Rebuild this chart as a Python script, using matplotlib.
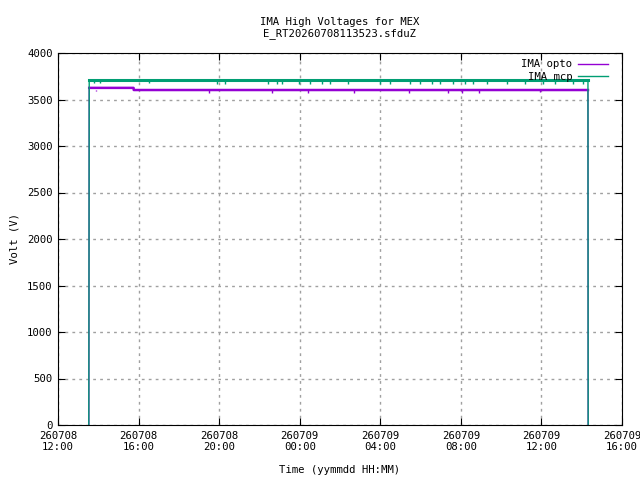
from datetime import datetime, timedelta

import matplotlib
matplotlib.use("Agg")
import matplotlib.dates as mdates
from matplotlib import pyplot as plt

# hours counted from 260708 00:00
opto_hours = [13.53, 13.55, 15.75, 15.76, 38.31, 38.32]
opto_volts = [0, 3625, 3625, 3602, 3602, 0]
opto_dip_hours = [13.9, 14.6, 15.2, 19.50, 22.62, 24.41, 26.69, 29.43, 31.36, 32.06, 32.90, 35.93]
opto_dip_volts = [3595, 3598, 3600, 3570, 3572, 3574, 3570, 3574, 3572, 3574, 3572, 3576]

mcp_hours = [13.53, 13.55, 38.31, 38.32]
mcp_volts = [0, 3705, 3705, 0]
mcp_dip_hours = [13.8, 14.1, 16.5, 19.88, 20.29, 22.43, 22.87, 23.12, 23.96, 24.51,
                 25.11, 25.50, 26.40, 27.99, 28.48, 29.48, 29.97, 30.57, 30.96, 31.61,
                 32.21, 32.60, 33.30, 34.29, 35.18, 36.08, 36.67, 37.57, 38.06]
mcp_dip_volts = [3675, 3678, 3675, 3662, 3665, 3668, 3670, 3665, 3670, 3672,
                 3670, 3672, 3665, 3668, 3665, 3668, 3670, 3670, 3665, 3672,
                 3668, 3670, 3670, 3672, 3668, 3670, 3672, 3668, 3670]

y_ticks = [0, 500, 1000, 1500, 2000, 2500, 3000, 3500, 4000]
day0 = datetime(2026, 7, 8)


def to_dates(hours):
    return [day0 + timedelta(hours=h) for h in hours]


if __name__ == "__main__":
    plt.rcParams["font.family"] = "DejaVu Sans Mono"
    plt.rcParams["font.size"] = 7.7

    fig = plt.figure(figsize=(6.4, 4.8), dpi=100)
    ax = fig.add_axes([58 / 640, 55 / 480, 564 / 640, 372 / 480])

    purple = "#9400d3"
    green = "#009e73"

    # thin trace for the full series, thicker band for the noisy plateau
    ax.plot(to_dates(opto_hours), opto_volts, color=purple, lw=1, label="IMA opto")
    ax.plot(to_dates(opto_hours[1:-1]), opto_volts[1:-1], color=purple, lw=1.8)
    ax.vlines(to_dates(opto_dip_hours), opto_dip_volts, 3600, color=purple, lw=1)
    ax.plot(to_dates(mcp_hours), mcp_volts, color=green, lw=1, label="IMA mcp")
    ax.plot(to_dates(mcp_hours[1:-1]), mcp_volts[1:-1], color=green, lw=2.2)
    ax.vlines(to_dates(mcp_dip_hours), mcp_dip_volts, 3700, color=green, lw=1)

    ax.set_xlim(day0 + timedelta(hours=12), day0 + timedelta(hours=40))
    ax.set_ylim(0, 4000)
    ax.xaxis.set_major_locator(mdates.HourLocator(byhour=range(0, 24, 4)))
    ax.xaxis.set_major_formatter(mdates.DateFormatter("%y%m%d\n%H:%M"))
    ax.set_yticks(y_ticks)
    ax.tick_params(direction="in", top=True, right=True, length=5, pad=4)
    for label in ax.get_xticklabels():
        label.set_horizontalalignment("center")

    ax.grid(True, color="#a0a0a0", linestyle=(0, (2, 3)), lw=1)
    ax.set_axisbelow(True)

    ax.set_title("IMA High Voltages for MEX\nE_RT20260708113523.sfduZ", fontsize=7.7, pad=12)
    ax.set_xlabel("Time (yymmdd HH:MM)")
    ax.set_ylabel("Volt (V)")
    ax.xaxis.set_label_coords(0.5, -0.108)
    ax.yaxis.set_label_coords(-0.069, 0.5)

    leg = ax.legend(loc="upper right", frameon=False, markerfirst=False,
                    handlelength=2.8, handletextpad=0.5, borderaxespad=0,
                    labelspacing=0.25, bbox_to_anchor=(1 - 10 / 564, 1 - 2 / 372))

    fig.savefig("out.png", dpi=100)
